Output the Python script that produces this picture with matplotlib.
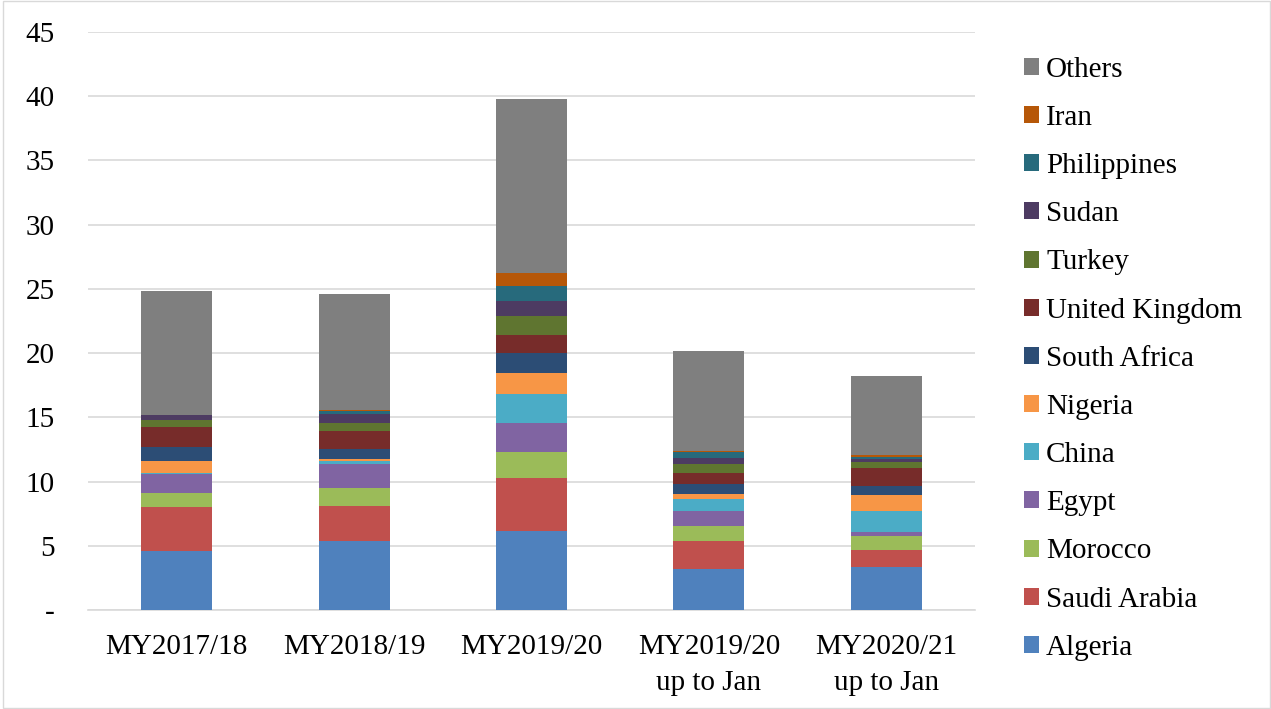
import matplotlib
matplotlib.use("Agg")
import matplotlib.pyplot as plt
import numpy as np

categories = ["MY2017/18", "MY2018/19", "MY2019/20", "MY2019/20\nup to Jan", "MY2020/21\nup to Jan"]

algeria      = [4.61, 5.39, 6.15, 3.23, 3.36]
saudi_arabia = [3.42, 2.74, 4.11, 2.16, 1.35]
morocco      = [1.06, 1.33, 2.06, 1.17, 1.07]
egypt        = [1.53, 1.91, 2.24, 1.15, 0.29]
china        = [0.05, 0.23, 2.29, 0.94, 1.61]
nigeria      = [0.96, 0.16, 1.59, 0.41, 1.30]
south_africa = [1.09, 0.80, 1.53, 0.78, 0.66]
united_kingdom = [1.53, 1.41, 1.46, 0.79, 1.45]
turkey       = [0.54, 0.59, 1.49, 0.70, 0.42]
sudan        = [0.41, 0.72, 1.17, 0.49, 0.22]
philippines  = [0.00, 0.20, 1.14, 0.47, 0.20]
iran         = [0.00, 0.12, 1.02, 0.08, 0.13]
others       = [9.65, 8.98, 13.55, 7.76, 6.15]

series_names = ["Algeria", "Saudi Arabia", "Morocco", "Egypt", "China", "Nigeria",
                "South Africa", "United Kingdom", "Turkey", "Sudan", "Philippines",
                "Iran", "Others"]
series_values = [algeria, saudi_arabia, morocco, egypt, china, nigeria, south_africa,
                 united_kingdom, turkey, sudan, philippines, iran, others]
colors = ["#4F81BD", "#C0504D", "#9BBB59", "#8064A2", "#4BACC6", "#F79646",
          "#2C4D75", "#772C2A", "#5F7530", "#4D3B62", "#276A7C", "#B65708", "#7F7F7F"]

yticks = [0, 5, 10, 15, 20, 25, 30, 35, 40, 45]
ytick_labels = ["-", "5", "10", "15", "20", "25", "30", "35", "40", "45"]

plt.rcParams['font.family'] = ['Liberation Serif', 'DejaVu Serif']
FS = 21

fig = plt.figure(figsize=(12.71, 7.09), dpi=100)
ax = fig.add_axes([88/1271, 1 - 610/709, (975-88)/1271, (610-32)/709])

x = np.arange(len(categories))
bottom = np.zeros(len(categories))
handles = []
for name, vals, c in zip(series_names, series_values, colors):
    v = np.array(vals)
    b = ax.bar(x, v, width=0.40, bottom=bottom, color=c, label=name, zorder=3)
    handles.append(b)
    bottom += v

ax.set_xlim(-0.5, len(categories) - 0.5)
ax.set_ylim(0, 45)
ax.set_yticks(yticks)
ax.set_yticklabels(ytick_labels, fontsize=FS)
ax.set_xticks(x)
ax.set_xticklabels(categories, fontsize=FS, linespacing=1.5)
ax.grid(axis='y', color='#D9D9D9', linewidth=1.2, zorder=0)
for s in ['top', 'right', 'left']:
    ax.spines[s].set_visible(False)
ax.spines['bottom'].set_color('#D9D9D9')
ax.spines['bottom'].set_linewidth(1.2)
ax.tick_params(axis='both', length=0, colors='black')
ax.tick_params(axis='y', pad=24)
ax.tick_params(axis='x', pad=17)

leg = fig.legend(handles[::-1], series_names[::-1], loc='upper left',
                 bbox_to_anchor=(1015/1271, 1 - 48/709), frameon=False, fontsize=FS,
                 handlelength=0.52, handleheight=0.52, handletextpad=0.25,
                 labelspacing=0.76, borderaxespad=0, borderpad=0.3)

border = plt.Rectangle((0.002, 0.001), 0.997, 0.997, transform=fig.transFigure,
                       fill=False, edgecolor='#D9D9D9', linewidth=1)
fig.patches.append(border)

fig.savefig("out.png", dpi=100, facecolor='white')
